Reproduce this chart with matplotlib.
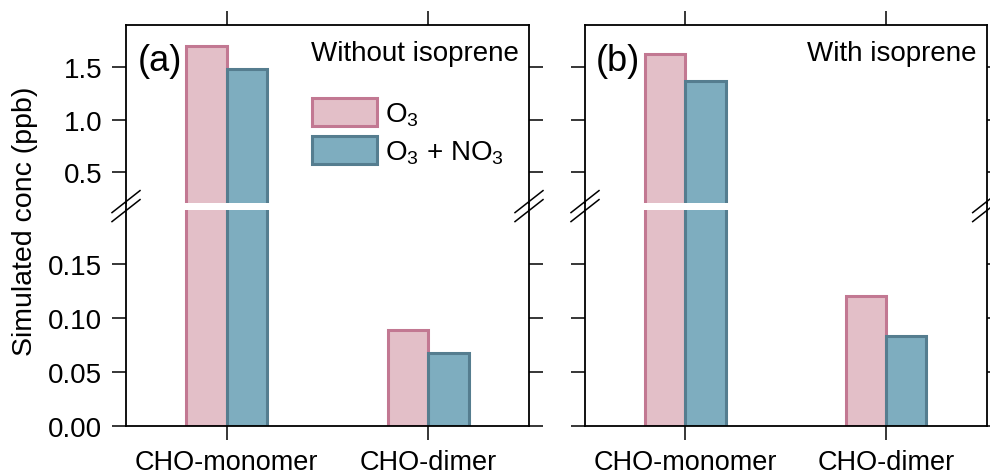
import matplotlib.pyplot as plt
from matplotlib.lines import Line2D
import numpy as np

plt.rcParams['font.family'] = ['Liberation Sans', 'DejaVu Sans']
plt.rcParams['mathtext.default'] = 'regular'

categories = ['CHO-monomer', 'CHO-dimer']
series_labels = ['O$_3$', 'O$_3$ + NO$_3$']
without_o3 = [1.70, 0.089]
without_o3_no3 = [1.48, 0.067]
with_o3 = [1.62, 0.120]
with_o3_no3 = [1.37, 0.083]
panel_tags = ['(a)', '(b)']
panel_titles = ['Without isoprene', 'With isoprene']

fill_colors = ['#e3bfc8', '#7eadbf']
edge_colors = ['#c27892', '#557d8f']

W, H = 990, 477
fig = plt.figure(figsize=(W / 100, H / 100), dpi=100)

FS = 20
LW = 1.3

# axis frames in pixels: (left, right); top/bottom shared
panel_x = [(126, 529), (585, 986.7)]
y_top, y_upper_bot, y_lower_top, y_bot = 26, 203.5, 210.7, 426.7


def fx(px):
    return px / W


def fy(py):
    return 1 - py / H


def draw_panel(i, o3, o3_no3):
    x0, x1 = panel_x[i]
    ax_up = fig.add_axes([fx(x0), fy(y_upper_bot), fx(x1 - x0), (y_upper_bot - y_top) / H])
    ax_lo = fig.add_axes([fx(x0), fy(y_bot), fx(x1 - x0), (y_bot - y_lower_top) / H])
    x = np.arange(len(categories))
    bars = []
    for ax in (ax_up, ax_lo):
        b1 = ax.bar(x - 0.1, o3, 0.2, color=fill_colors[0], edgecolor=edge_colors[0], linewidth=2.2)
        b2 = ax.bar(x + 0.1, o3_no3, 0.2, color=fill_colors[1], edgecolor=edge_colors[1], linewidth=2.2)
        bars.append((b1, b2))
        ax.set_xlim(-0.5, 1.5)
        ax.set_xticks(x)
        for s in ax.spines.values():
            s.set_linewidth(LW)
        ax.tick_params(axis='both', direction='out', length=10, width=1.1, labelsize=FS, pad=7)
        ax.tick_params(axis='x', labelsize=19.5, pad=6.5)
        ax.tick_params(axis='y', left=True, right=True, labelleft=(i == 0))

    ax_up.set_ylim(0.21, 1.9)
    ax_up.set_yticks([0.5, 1.0, 1.5])
    ax_up.set_yticklabels(['0.5', '1.0', '1.5'])
    ax_up.spines['bottom'].set_visible(False)
    ax_up.tick_params(axis='x', top=True, bottom=False, labelbottom=False)

    ax_lo.set_ylim(0, 0.2)
    ax_lo.set_yticks([0, 0.05, 0.10, 0.15])
    ax_lo.set_yticklabels(['0.00', '0.05', '0.10', '0.15'])
    ax_lo.spines['top'].set_visible(False)
    ax_lo.set_xticklabels(categories)

    ax_up.text(0.028, 0.80, panel_tags[i], transform=ax_up.transAxes, fontsize=26,
               ha='left', va='center')
    ax_up.text(0.975, 0.803, panel_titles[i], transform=ax_up.transAxes, fontsize=FS,
               ha='right', va='baseline')

    # spines run through the break, with // marks on each side
    ymid = (y_upper_bot + y_lower_top) / 2
    for xs in (x0, x1):
        fig.add_artist(Line2D([fx(xs), fx(xs)], [fy(y_upper_bot), fy(y_lower_top)],
                              color='black', lw=LW))
        for off in (-4.5, 4.5):
            fig.add_artist(Line2D([fx(xs - 14), fx(xs + 14)],
                                  [fy(ymid + off + 11), fy(ymid + off - 11)],
                                  color='black', lw=1.1))
    return ax_up, bars[0]


ax_a, handles = draw_panel(0, without_o3, without_o3_no3)
draw_panel(1, with_o3, with_o3_no3)

ax_a.legend(handles, series_labels, loc='upper left', bbox_to_anchor=(0.461, 0.589),
            frameon=False, borderpad=0, borderaxespad=0, handlelength=2.35,
            handleheight=1.15, handletextpad=0.27, labelspacing=0.3, fontsize=FS)

fig.text(fx(25), fy(221.7), 'Simulated conc (ppb)', rotation=90, fontsize=20.5,
         ha='center', va='center')

fig.savefig('out.png', dpi=100)
